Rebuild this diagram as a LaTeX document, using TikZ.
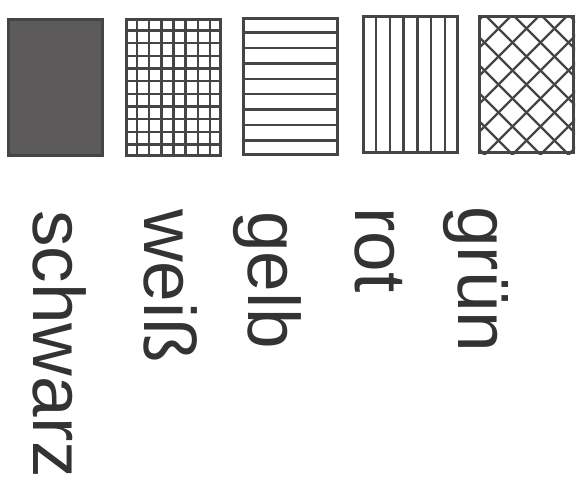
\documentclass[tikz,border=0pt]{standalone}
\usepackage{fontspec}
\setmainfont{Liberation Sans}
\usetikzlibrary{calc}
\definecolor{ink}{HTML}{454545}
\definecolor{coal}{HTML}{5C5A5A}
\begin{document}
\begin{tikzpicture}[x=1pt,y=-1pt,
  box/.style={draw=ink,line width=3pt,minimum width=94pt,minimum height=136pt,inner sep=0pt,anchor=north west},
  hatch/.style={draw=ink,line width=2.4pt},
  lab/.style={rotate=-90,anchor=base west,inner sep=0pt,text=black!80,font=\fontsize{73}{73}\selectfont}]
\useasboundingbox (0,0) rectangle (581,490);
% colour samples
\node[box,fill=coal] (schwarz) at (7,18) {};
\node[box] (weiss) at (125,18) {};
\node[box] (gelb) at (242,17) {};
\node[box] (rot) at (362,15) {};
\node[box] (gruen) at (478,15) {};
% weiss: grid
\foreach \i in {1,...,7}
  \draw[hatch] ($(weiss.north west)!\i/8!(weiss.north east)$) -- ($(weiss.south west)!\i/8!(weiss.south east)$);
\foreach \j in {1,...,10}
  \draw[hatch] ($(weiss.north west)!\j/11!(weiss.south west)$) -- ($(weiss.north east)!\j/11!(weiss.south east)$);
% gelb: horizontal lines
\foreach \j in {1,...,8}
  \draw[hatch] ($(gelb.north west)!\j/9!(gelb.south west)$) -- ($(gelb.north east)!\j/9!(gelb.south east)$);
% rot: vertical lines
\foreach \i in {1,...,6}
  \draw[hatch] ($(rot.north west)!\i/7!(rot.north east)$) -- ($(rot.south west)!\i/7!(rot.south east)$);
% gruen: cross hatch
\begin{scope}
  \clip (gruen.south west) rectangle (gruen.north east);
  \foreach \k in {-6,...,6}{
    \draw[hatch] ([xshift=\k*28pt]gruen.center) ++(-110,-110) -- ++(220,220);
    \draw[hatch] ([xshift=\k*28pt]gruen.center) ++(-110,110) -- ++(220,-220);}
\end{scope}
\node[box] at (gruen.north west) {};
% labels
\node[lab] (l-schwarz) at (33,210) {schwarz};
\node[lab] (l-weiss) at (144,209) {weiß};
\node[lab] (l-gelb) at (248,211) {gelb};
\node[lab] (l-rot) at (355,207) {rot};
\node[lab] (l-gruen) at (458,206) {grün};
\end{tikzpicture}
\end{document}
